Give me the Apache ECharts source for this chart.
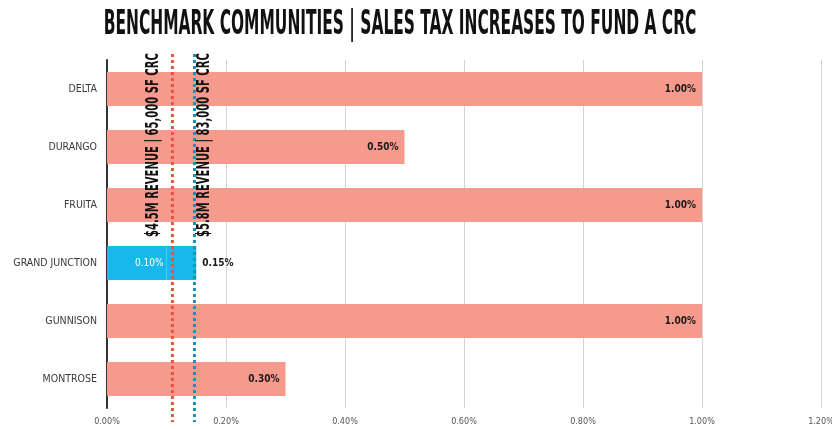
<!DOCTYPE html>
<html>
<head>
<meta charset="utf-8">
<script src="https://cdn.jsdelivr.net/npm/echarts@6/dist/echarts.min.js"></script>
<style>
  html, body { margin: 0; padding: 0; background: #fff; }
  #chart { width: 832px; height: 429px; }
</style>
</head>
<body>
<div id="chart"></div>
<script>
// Communities compared, top to bottom
const categories = ['DELTA', 'DURANGO', 'FRUITA', 'GRAND JUNCTION', 'GUNNISON', 'MONTROSE'];
// Sales tax increase (%) adopted by each benchmark community
const benchmarkRates = [1.00, 0.50, 1.00, null, 1.00, 0.30];
// Grand Junction: base increase plus the additional share
const gjBase = [null, null, null, 0.10, null, null];
const gjAdded = [null, null, null, 0.05, null, null];
// Revenue thresholds drawn as dotted reference lines (% sales tax)
const refValues = [0.11, 0.147];
const refLabels = ['$4.5M REVENUE | 65,000 SF CRC', '$5.8M REVENUE | 83,000 SF CRC'];
// X axis ticks
const xTicks = [0, 0.2, 0.4, 0.6, 0.8, 1.0, 1.2];

const pct = v => v.toFixed(2) + '%';
const CONDENSED = '"Liberation Sans Narrow", "DejaVu Sans Condensed", sans-serif';

const chart = echarts.init(document.getElementById('chart'), null, { renderer: 'canvas' });

const refStyles = [
  { line: '#E5553F', textDx: -10 },
  { line: '#1E8FB8', textDx: 19 }
];

chart.setOption({
  animation: false,
  backgroundColor: '#ffffff',
  graphic: [{
    type: 'text',
    x: 400,
    y: 8,
    scaleX: 0.78,
    scaleY: 1.55,
    style: {
      text: 'BENCHMARK COMMUNITIES | SALES TAX INCREASES TO FUND A CRC',
      font: 'bold 22px ' + CONDENSED,
      fill: '#111',
      align: 'center',
      verticalAlign: 'top'
    }
  }],
  grid: { left: 107, right: 11, top: 60, bottom: 21, containLabel: false, outerBoundsMode: 'none' },
  xAxis: {
    type: 'value',
    min: xTicks[0],
    max: xTicks[xTicks.length - 1],
    interval: 0.2,
    axisLine: { show: false },
    axisTick: { show: false },
    axisLabel: {
      formatter: v => pct(v),
      color: '#555',
      fontSize: 9,
      fontFamily: CONDENSED,
      margin: 9
    },
    splitLine: { show: true, lineStyle: { color: '#d4d4d4', width: 1 } }
  },
  yAxis: {
    type: 'category',
    data: categories,
    inverse: true,
    axisLine: { show: true, lineStyle: { color: '#333', width: 2 } },
    axisTick: { show: false },
    axisLabel: {
      color: '#3a3a3a',
      fontSize: 10.5,
      fontFamily: '"DejaVu Sans Condensed", sans-serif',
      margin: 10
    }
  },
  series: [
    {
      name: 'Benchmark',
      type: 'bar',
      stack: 'rate',
      data: benchmarkRates,
      barCategoryGap: '41%',
      itemStyle: { color: '#F59A8C' },
      label: {
        show: true,
        position: 'insideRight',
        distance: 6,
        formatter: p => pct(p.value),
        color: '#1a1a1a',
        fontSize: 10,
        fontWeight: 'bold',
        fontFamily: CONDENSED
      }
    },
    {
      name: 'Grand Junction base',
      type: 'bar',
      stack: 'rate',
      data: gjBase,
      itemStyle: { color: '#19B8EA' },
      label: {
        show: true,
        position: 'insideRight',
        distance: 3,
        formatter: p => pct(p.value),
        color: '#ffffff',
        fontSize: 10,
        fontFamily: CONDENSED
      }
    },
    {
      name: 'Grand Junction added',
      type: 'bar',
      stack: 'rate',
      data: gjAdded,
      itemStyle: { color: '#19B8EA' },
      label: {
        show: true,
        position: 'right',
        distance: 6,
        formatter: p => pct(gjBase[p.dataIndex] + gjAdded[p.dataIndex]),
        color: '#1a1a1a',
        fontSize: 10,
        fontWeight: 'bold',
        fontFamily: CONDENSED
      }
    },
    {
      name: 'Revenue thresholds',
      type: 'custom',
      coordinateSystem: 'cartesian2d',
      clip: false,
      z: 5,
      data: refValues.map((v, i) => [v, i]),
      encode: { x: 0, y: 1 },
      renderItem: (params, api) => {
        const i = params.dataIndex;
        const x = api.coord([api.value(0), 0])[0];
        const cs = params.coordSys;
        const s = refStyles[i];
        return {
          type: 'group',
          children: [
            {
              type: 'line',
              shape: { x1: x, y1: cs.y - 6, x2: x, y2: cs.y + cs.height + 14 },
              style: { stroke: s.line, lineWidth: 3, lineDash: [3, 3] }
            },
            {
              type: 'text',
              x: x + s.textDx,
              y: 237,
              rotation: Math.PI / 2,
              scaleX: 0.62,
              style: {
                text: refLabels[i],
                font: 'bold 18px ' + CONDENSED,
                fill: '#111',
                align: 'left',
                verticalAlign: 'bottom'
              }
            }
          ]
        };
      }
    }
  ]
});
</script>
</body>
</html>
